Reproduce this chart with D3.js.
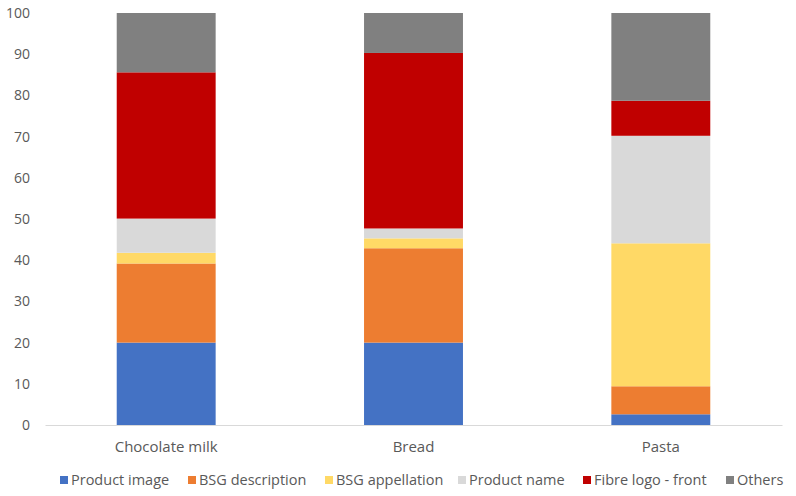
<!DOCTYPE html>
<html>
<head>
<meta charset="utf-8">
<script src="https://cdn.jsdelivr.net/npm/d3@7"></script>
<style>
  body { margin: 0; background: #fff; }
  text { font-family: "Open Sans", "Liberation Sans", sans-serif; fill: #595959; }
</style>
</head>
<body>
<div id="chart"></div>
<script>
var categories = ["Chocolate milk", "Bread", "Pasta"];
var seriesNames = ["Product image", "BSG description", "BSG appellation", "Product name", "Fibre logo - front", "Others"];
var productImage   = [20.0, 20.0, 2.6];
var bsgDescription = [19.2, 22.9, 6.8];
var bsgAppellation = [2.6, 2.4, 34.7];
var productName    = [8.3, 2.4, 26.1];
var fibreLogo      = [35.5, 42.6, 8.5];
var others         = [14.4, 9.7, 21.3];
var yTicks = [0, 10, 20, 30, 40, 50, 60, 70, 80, 90, 100];

var colors = ["#4472C4", "#ED7D31", "#FFD966", "#D9D9D9", "#C00000", "#808080"];

var svgWidth = 796;
var svgHeight = 496;
var margin = { top: 13, right: 14, bottom: 71, left: 45 };
var chartWidth = svgWidth - margin.left - margin.right;
var chartHeight = svgHeight - margin.top - margin.bottom;

var svg = d3.select("#chart").append("svg")
    .attr("width", svgWidth)
    .attr("height", svgHeight);

var chartGroup = svg.append("g")
  .attr("transform", `translate(${margin.left}, ${margin.top})`);

// build rows for d3.stack
var allSeries = [productImage, bsgDescription, bsgAppellation, productName, fibreLogo, others];
var rows = categories.map(function(c, i) {
  var row = { category: c };
  seriesNames.forEach(function(s, j) { row[s] = allSeries[j][i]; });
  return row;
});

var stacked = d3.stack().keys(seriesNames)(rows);

var xScale = d3.scaleBand()
  .domain(categories)
  .range([0, chartWidth])
  .paddingInner(0.6)
  .paddingOuter(0.29);

var yScale = d3.scaleLinear()
  .domain([0, 100])
  .range([chartHeight, 0]);

var color = d3.scaleOrdinal().domain(seriesNames).range(colors);

// y axis, labels only
var yAxis = chartGroup.append("g")
  .call(d3.axisLeft(yScale).tickValues(yTicks).tickSize(0).tickPadding(15));
yAxis.select(".domain").remove();
yAxis.selectAll("text").style("font-size", "14px").attr("fill", "#595959");

// bars
chartGroup.selectAll(".layer")
  .data(stacked)
  .enter()
  .append("g")
    .attr("class", "layer")
    .attr("fill", function(d) { return color(d.key); })
  .selectAll("rect")
  .data(function(d) { return d; })
  .enter()
  .append("rect")
    .attr("x", function(d) { return xScale(d.data.category); })
    .attr("y", function(d) { return yScale(d[1]); })
    .attr("height", function(d) { return yScale(d[0]) - yScale(d[1]); })
    .attr("width", xScale.bandwidth());

// x axis
var xAxis = chartGroup.append("g")
  .attr("transform", `translate(0, ${chartHeight})`)
  .call(d3.axisBottom(xScale).tickSize(0).tickPadding(16));
xAxis.select(".domain").attr("stroke", "#D9D9D9").attr("stroke-width", 1);
xAxis.selectAll("text").style("font-size", "15px").attr("fill", "#595959");

// legend
var legendX = [60, 188, 325, 458, 583, 726];
var legend = svg.append("g")
  .attr("transform", "translate(0, 480)");

var item = legend.selectAll(".item")
  .data(seriesNames)
  .enter()
  .append("g")
    .attr("class", "item")
    .attr("transform", function(d, i) { return `translate(${legendX[i]}, 0)`; });

item.append("rect")
  .attr("x", 0)
  .attr("y", -4)
  .attr("width", 8)
  .attr("height", 8)
  .attr("fill", function(d) { return color(d); });

item.append("text")
  .attr("x", 11)
  .attr("dy", "0.35em")
  .style("font-size", "14.5px")
  .text(function(d) { return d; });
</script>
</body>
</html>
